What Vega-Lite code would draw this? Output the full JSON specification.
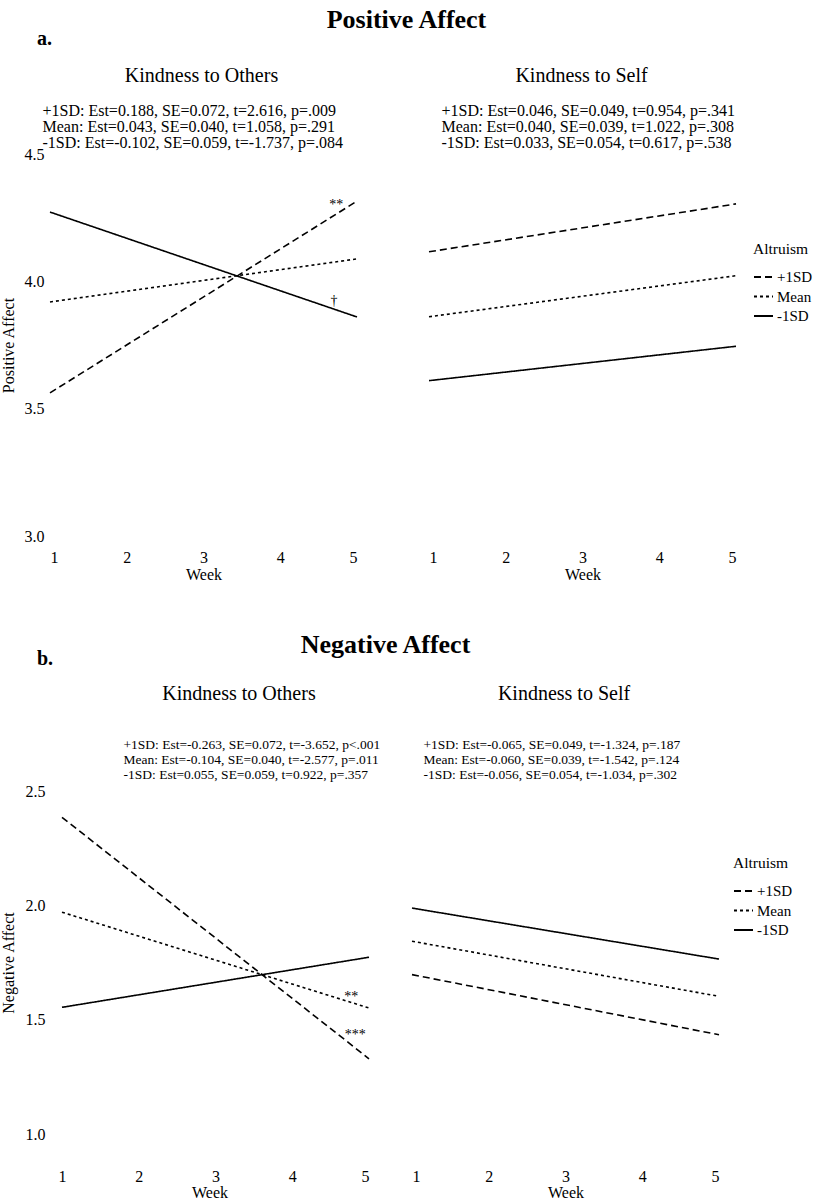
{
  "$schema": "https://vega.github.io/schema/vega-lite/v6.json",
  "background": "white",
  "padding": {"left": 0, "top": 7, "right": 0, "bottom": 0},
  "columns": 1,
  "align": "none",
  "spacing": 50,
  "datasets": {
    "lines": [
      {"panel": "PA-Others", "altruism": "+1SD", "week": 1, "value": 3.562},
      {"panel": "PA-Others", "altruism": "+1SD", "week": 5, "value": 4.315},
      {"panel": "PA-Others", "altruism": "Mean", "week": 1, "value": 3.919},
      {"panel": "PA-Others", "altruism": "Mean", "week": 5, "value": 4.088},
      {"panel": "PA-Others", "altruism": "-1SD", "week": 1, "value": 4.272},
      {"panel": "PA-Others", "altruism": "-1SD", "week": 5, "value": 3.860},
      {"panel": "PA-Self", "altruism": "+1SD", "week": 1, "value": 4.116},
      {"panel": "PA-Self", "altruism": "+1SD", "week": 5, "value": 4.304},
      {"panel": "PA-Self", "altruism": "Mean", "week": 1, "value": 3.861},
      {"panel": "PA-Self", "altruism": "Mean", "week": 5, "value": 4.022},
      {"panel": "PA-Self", "altruism": "-1SD", "week": 1, "value": 3.610},
      {"panel": "PA-Self", "altruism": "-1SD", "week": 5, "value": 3.745},
      {"panel": "NA-Others", "altruism": "+1SD", "week": 1, "value": 2.385},
      {"panel": "NA-Others", "altruism": "+1SD", "week": 5, "value": 1.329},
      {"panel": "NA-Others", "altruism": "Mean", "week": 1, "value": 1.970},
      {"panel": "NA-Others", "altruism": "Mean", "week": 5, "value": 1.551},
      {"panel": "NA-Others", "altruism": "-1SD", "week": 1, "value": 1.554},
      {"panel": "NA-Others", "altruism": "-1SD", "week": 5, "value": 1.773},
      {"panel": "NA-Self", "altruism": "+1SD", "week": 1, "value": 1.697},
      {"panel": "NA-Self", "altruism": "+1SD", "week": 5, "value": 1.434},
      {"panel": "NA-Self", "altruism": "Mean", "week": 1, "value": 1.843},
      {"panel": "NA-Self", "altruism": "Mean", "week": 5, "value": 1.602},
      {"panel": "NA-Self", "altruism": "-1SD", "week": 1, "value": 1.988},
      {"panel": "NA-Self", "altruism": "-1SD", "week": 5, "value": 1.765}
    ],
    "sig": [
      {"panel": "PA-Others", "label": "**", "week": 4.73, "value": 4.30},
      {"panel": "PA-Others", "label": "†", "week": 4.70, "value": 3.923},
      {"panel": "NA-Others", "label": "**", "week": 4.77, "value": 1.599},
      {"panel": "NA-Others", "label": "***", "week": 4.82, "value": 1.431}
    ]
  },
  "concat": [
    {
      "title": {"text": "Positive Affect", "fontSize": 26, "fontWeight": "bold", "anchor": "middle", "offset": -4.5, "dx": 0},
      "vconcat": [
        {
          "title": {"text": "a.", "fontSize": 20, "fontWeight": "bold", "anchor": "start", "offset": 17, "dx": 37},
          "spacing": 64,
          "resolve": {"scale": {"strokeDash": "independent"}, "legend": {"strokeDash": "independent"}},
          "hconcat": [
            {
              "width": 307, "height": 382,
              "title": {"text": "Kindness to Others", "fontSize": 20, "fontWeight": "normal", "anchor": "middle", "frame": "group", "offset": 16.5, "dx": -2},
              "encoding": {"y": {"field": "value", "type": "quantitative", "scale": {"domain": [3, 4.5], "nice": false, "zero": false}, "axis": {"values": [3, 3.5, 4, 4.5], "format": ".1f", "title": "Positive Affect", "labelPadding": 6, "titlePadding": 8}}},
              "layer": [
                {
                  "data": {"name": "lines"},
                  "transform": [{"filter": "datum.panel === 'PA-Others'"}],
                  "mark": {"type": "line", "color": "black", "strokeWidth": 1.6},
                  "encoding": {
                    "x": {"field": "week", "type": "quantitative", "scale": {"domain": [1, 5], "nice": false}, "axis": {"values": [1, 2, 3, 4, 5], "format": "d", "title": "Week", "labelPadding": 13, "titlePadding": 1}},
                    "strokeDash": {"field": "altruism", "type": "nominal", "scale": {"domain": ["+1SD", "Mean", "-1SD"], "range": [[7, 4], [3, 3], [1, 0]]}, "legend": null}
                  }
                },
                {
                  "data": {"name": "sig"},
                  "transform": [{"filter": "datum.panel === 'PA-Others'"}],
                  "mark": {"type": "text", "fontSize": 14, "color": "black", "fill": "black", "font": "Liberation Serif", "baseline": "middle"},
                  "encoding": {
                    "x": {"field": "week", "type": "quantitative", "scale": {"domain": [1, 5], "nice": false}, "axis": {"orient": "top", "labels": false, "title": ["+1SD: Est=0.188, SE=0.072, t=2.616, p=.009", "Mean: Est=0.043, SE=0.040, t=1.058, p=.291", "-1SD: Est=-0.102, SE=0.059, t=-1.737, p=.084"], "titleAnchor": "start", "titleAlign": "left", "titleX": -8, "titlePadding": 4, "titleFontSize": 16, "titleLineHeight": 16}},
                    "text": {"field": "label"}
                  }
                }
              ],
              "resolve": {"axis": {"x": "independent"}}
            },
            {
              "width": 307, "height": 382,
              "title": {"text": "Kindness to Self", "fontSize": 20, "fontWeight": "normal", "anchor": "middle", "frame": "group", "offset": 16.5, "dx": -1},
              "encoding": {"y": {"field": "value", "type": "quantitative", "scale": {"domain": [3, 4.5], "nice": false, "zero": false}, "axis": null}},
              "layer": [
                {
                  "data": {"name": "lines"},
                  "transform": [{"filter": "datum.panel === 'PA-Self'"}],
                  "mark": {"type": "line", "color": "black", "strokeWidth": 1.6},
                  "encoding": {
                    "x": {"field": "week", "type": "quantitative", "scale": {"domain": [1, 5], "nice": false}, "axis": {"values": [1, 2, 3, 4, 5], "format": "d", "title": "Week", "labelPadding": 13, "titlePadding": 1}},
                    "strokeDash": {"field": "altruism", "type": "nominal", "scale": {"domain": ["+1SD", "Mean", "-1SD"], "range": [[7, 4], [3, 3], [1, 0]]},
                      "legend": {"orient": "none", "legendX": 324, "legendY": 88, "title": "Altruism", "titleFontSize": 15.5, "titleFontWeight": "normal", "titlePadding": 9, "labelFontSize": 15, "symbolType": "stroke", "symbolSize": 361, "symbolStrokeWidth": 2, "symbolStrokeColor": "black", "rowPadding": 0.5, "labelOffset": 3, "labelColor": "black", "titleColor": "black"}}
                  }
                },
                {
                  "data": {"name": "sig"},
                  "transform": [{"filter": "datum.panel === 'PA-Self'"}],
                  "mark": {"type": "text", "fontSize": 14, "color": "black", "fill": "black", "font": "Liberation Serif", "baseline": "middle"},
                  "encoding": {
                    "x": {"field": "week", "type": "quantitative", "scale": {"domain": [1, 5], "nice": false}, "axis": {"orient": "top", "labels": false, "title": ["+1SD: Est=0.046, SE=0.049, t=0.954, p=.341", "Mean: Est=0.040, SE=0.039, t=1.022, p=.308", "-1SD: Est=0.033, SE=0.054, t=0.617, p=.538"], "titleAnchor": "start", "titleAlign": "left", "titleX": 12, "titlePadding": 4, "titleFontSize": 16, "titleLineHeight": 16}},
                    "text": {"field": "label"}
                  }
                }
              ],
              "resolve": {"axis": {"x": "independent"}}
            }
          ]
        }
      ]
    },
    {
      "title": {"text": "Negative Affect", "fontSize": 26, "fontWeight": "bold", "anchor": "middle", "offset": -9.5, "dx": -11},
      "vconcat": [
        {
          "title": {"text": "b.", "fontSize": 20, "fontWeight": "bold", "anchor": "start", "offset": 15, "dx": 37},
          "spacing": 28,
          "resolve": {"scale": {"strokeDash": "independent"}, "legend": {"strokeDash": "independent"}},
          "hconcat": [
            {
              "width": 319, "height": 343,
              "title": {"text": "Kindness to Others", "fontSize": 20, "fontWeight": "normal", "anchor": "middle", "frame": "group", "offset": 34, "dx": 29.5},
              "encoding": {"y": {"field": "value", "type": "quantitative", "scale": {"domain": [1, 2.5], "nice": false, "zero": false}, "axis": {"values": [1, 1.5, 2, 2.5], "format": ".1f", "title": "Negative Affect", "labelPadding": 5, "titlePadding": 9}}},
              "layer": [
                {
                  "data": {"name": "lines"},
                  "transform": [{"filter": "datum.panel === 'NA-Others'"}],
                  "mark": {"type": "line", "color": "black", "strokeWidth": 1.6},
                  "encoding": {
                    "x": {"field": "week", "type": "quantitative", "scale": {"domain": [0.8437, 5], "nice": false}, "axis": {"values": [1, 2, 3, 4, 5], "format": "d", "title": "Week", "labelPadding": 34, "titlePadding": 0}},
                    "strokeDash": {"field": "altruism", "type": "nominal", "scale": {"domain": ["+1SD", "Mean", "-1SD"], "range": [[7, 4], [3, 3], [1, 0]]}, "legend": null}
                  }
                },
                {
                  "data": {"name": "sig"},
                  "transform": [{"filter": "datum.panel === 'NA-Others'"}],
                  "mark": {"type": "text", "fontSize": 14, "color": "black", "fill": "black", "font": "Liberation Serif", "baseline": "middle"},
                  "encoding": {
                    "x": {"field": "week", "type": "quantitative", "scale": {"domain": [0.8437, 5], "nice": false}, "axis": {"orient": "top", "labels": false, "title": ["+1SD: Est=-0.263, SE=0.072, t=-3.652, p<.001", "Mean: Est=-0.104, SE=0.040, t=-2.577, p=.011", "-1SD: Est=0.055, SE=0.059, t=0.922, p=.357"], "titleAnchor": "start", "titleAlign": "left", "titleX": 73, "titlePadding": 9.4, "titleFontSize": 13.5, "titleLineHeight": 15}},
                    "text": {"field": "label"}
                  }
                }
              ],
              "resolve": {"axis": {"x": "independent"}}
            },
            {
              "width": 307, "height": 343,
              "title": {"text": "Kindness to Self", "fontSize": 20, "fontWeight": "normal", "anchor": "middle", "frame": "group", "offset": 34, "dx": -1.5},
              "encoding": {"y": {"field": "value", "type": "quantitative", "scale": {"domain": [1, 2.5], "nice": false, "zero": false}, "axis": null}},
              "layer": [
                {
                  "data": {"name": "lines"},
                  "transform": [{"filter": "datum.panel === 'NA-Self'"}],
                  "mark": {"type": "line", "color": "black", "strokeWidth": 1.6},
                  "encoding": {
                    "x": {"field": "week", "type": "quantitative", "scale": {"domain": [1, 5], "nice": false}, "axis": {"values": [1, 2, 3, 4, 5], "format": "d", "title": "Week", "labelPadding": 34, "titlePadding": 0}},
                    "strokeDash": {"field": "altruism", "type": "nominal", "scale": {"domain": ["+1SD", "Mean", "-1SD"], "range": [[7, 4], [3, 3], [1, 0]]},
                      "legend": {"orient": "none", "legendX": 321, "legendY": 65, "title": "Altruism", "titleFontSize": 15.5, "titleFontWeight": "normal", "titlePadding": 9, "labelFontSize": 15, "symbolType": "stroke", "symbolSize": 361, "symbolStrokeWidth": 2, "symbolStrokeColor": "black", "rowPadding": 0.5, "labelOffset": 3, "labelColor": "black", "titleColor": "black"}}
                  }
                },
                {
                  "data": {"name": "sig"},
                  "transform": [{"filter": "datum.panel === 'NA-Self'"}],
                  "mark": {"type": "text", "fontSize": 14, "color": "black", "fill": "black", "font": "Liberation Serif", "baseline": "middle"},
                  "encoding": {
                    "x": {"field": "week", "type": "quantitative", "scale": {"domain": [1, 5], "nice": false}, "axis": {"orient": "top", "labels": false, "title": ["+1SD: Est=-0.065, SE=0.049, t=-1.324, p=.187", "Mean: Est=-0.060, SE=0.039, t=-1.542, p=.124", "-1SD: Est=-0.056, SE=0.054, t=-1.034, p=.302"], "titleAnchor": "start", "titleAlign": "left", "titleX": 11, "titlePadding": 9.4, "titleFontSize": 13.5, "titleLineHeight": 15}},
                    "text": {"field": "label"}
                  }
                }
              ],
              "resolve": {"axis": {"x": "independent"}}
            }
          ]
        }
      ]
    }
  ],
  "config": {
    "font": "Liberation Serif",
    "view": {"stroke": null},
    "text": {"font": "Liberation Serif"},
    "axis": {"grid": false, "ticks": false, "domain": false, "labelFont": "Liberation Serif", "titleFont": "Liberation Serif", "labelFontSize": 16, "titleFontSize": 16, "titleFontWeight": "normal", "labelColor": "black", "titleColor": "black"},
    "legend": {"labelFont": "Liberation Serif", "titleFont": "Liberation Serif"},
    "title": {"color": "black", "font": "Liberation Serif", "subtitleFont": "Liberation Serif"}
  }
}
